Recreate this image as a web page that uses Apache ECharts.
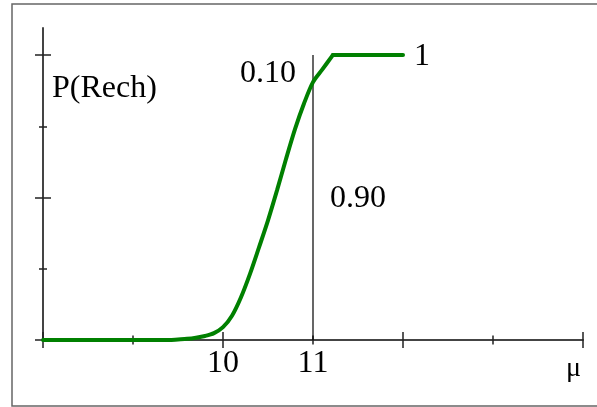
<!DOCTYPE html>
<html>
<head>
<meta charset="utf-8">
<script src="https://cdn.jsdelivr.net/npm/echarts@6/dist/echarts.min.js"></script>
<style>html,body{margin:0;padding:0;background:#fff;}#c{width:597px;height:407px;}</style>
</head>
<body>
<div id="c"></div>
<script>
// ---- data ----
var muValues = [8, 8.7, 9.4, 9.5, 9.6, 9.7, 9.8, 9.9, 10.0, 10.1, 10.2, 10.3, 10.4, 10.5, 10.6, 10.7, 10.8, 10.9, 11.0, 11.1, 11.22];
var pValues  = [0, 0, 0, 0.002, 0.004, 0.008, 0.014, 0.024, 0.045, 0.085, 0.15, 0.232, 0.325, 0.42, 0.525, 0.635, 0.74, 0.83, 0.905, 0.948, 1];
var flatMu = [11.22, 12];
var flatP  = [1, 1];
var markerMu = [11, 11];
var markerP  = [0, 1];
var xMajorTicks = [8, 10, 12, 14];
var xMinorTicks = [9, 11, 13];
var xTickLabels = [10, 11];
var yMajorTicks = [0, 0.5, 1];
var yMinorTicks = [0.25, 0.75];
var xMin = 8, xMax = 14, yMin = 0, yMax = 1.095;

function pairs(a, b) { return a.map(function (v, i) { return [v, b[i]]; }); }

var SERIF = '"Liberation Serif","Times New Roman",serif';
var axisCol = '#444';

function xAxisDef(ticks, len, inside, showLine, labels) {
  return {
    type: 'value', min: xMin, max: xMax, position: 'bottom', gridIndex: 0,
    axisLine: { show: showLine, onZero: false, lineStyle: { color: axisCol, width: 2 } },
    axisTick: { show: true, customValues: ticks, length: len, inside: inside, lineStyle: { color: '#222', width: 1.5 } },
    axisLabel: labels ? { show: true, customValues: labels, fontSize: 32, fontFamily: SERIF, color: '#000', margin: 8 } : { show: false },
    splitLine: { show: false }
  };
}
function yAxisDef(ticks, len, inside, showLine) {
  return {
    type: 'value', min: yMin, max: yMax, position: 'left', gridIndex: 0,
    axisLine: { show: showLine, onZero: false, lineStyle: { color: axisCol, width: 2 } },
    axisTick: { show: true, customValues: ticks, length: len, inside: inside, lineStyle: { color: '#222', width: 1.5 } },
    axisLabel: { show: false },
    splitLine: { show: false }
  };
}

var chart = echarts.init(document.getElementById('c'), null, { renderer: 'canvas' });
chart.setOption({
  animation: false,
  backgroundColor: '#fff',
  grid: { left: 43, right: 14, top: 28, bottom: 67, containLabel: false },
  xAxis: [
    xAxisDef(xMajorTicks, 8, false, true, xTickLabels),
    xAxisDef(xMajorTicks, 8, true, false, null),
    xAxisDef(xMinorTicks, 4.5, false, false, null),
    xAxisDef(xMinorTicks, 4.5, true, false, null)
  ],
  yAxis: [
    yAxisDef(yMajorTicks, 8, false, true),
    yAxisDef(yMajorTicks, 8, true, false),
    yAxisDef(yMinorTicks, 4, false, false),
    yAxisDef(yMinorTicks, 4, true, false)
  ],
  series: [
    {
      type: 'line', xAxisIndex: 0, yAxisIndex: 0, data: pairs(markerMu, markerP),
      symbol: 'none', lineStyle: { color: '#000', width: 1.2 }, z: 2, silent: true
    },
    {
      type: 'line', xAxisIndex: 0, yAxisIndex: 0, data: pairs(muValues, pValues),
      symbol: 'none', smooth: 0.3,
      lineStyle: { color: '#008000', width: 4, cap: 'round' }, z: 3, silent: true
    },
    {
      type: 'line', xAxisIndex: 0, yAxisIndex: 0, data: pairs(flatMu, flatP),
      symbol: 'none', lineStyle: { color: '#008000', width: 4, cap: 'round', join: 'round' }, z: 3, silent: true
    }
  ],
  graphic: [
    { type: 'rect', shape: { x: 12, y: 4, width: 620, height: 402 }, style: { fill: 'none', stroke: '#666', lineWidth: 1.5 }, z: 0, silent: true },
    { type: 'text', x: 52, y: 89, style: { text: 'P(Rech)', font: '32px ' + SERIF, fill: '#000', verticalAlign: 'middle', align: 'left' }, silent: true },
    { type: 'text', x: 240, y: 74, style: { text: '0.10', font: '32px ' + SERIF, fill: '#000', verticalAlign: 'middle', align: 'left' }, silent: true },
    { type: 'text', x: 330, y: 199, style: { text: '0.90', font: '32px ' + SERIF, fill: '#000', verticalAlign: 'middle', align: 'left' }, silent: true },
    { type: 'text', x: 414, y: 57, style: { text: '1', font: '32px ' + SERIF, fill: '#000', verticalAlign: 'middle', align: 'left' }, silent: true },
    { type: 'text', x: 566, y: 369, style: { text: 'μ', font: '28px ' + SERIF, fill: '#000', verticalAlign: 'middle', align: 'left' }, silent: true }
  ]
});
</script>
</body>
</html>
